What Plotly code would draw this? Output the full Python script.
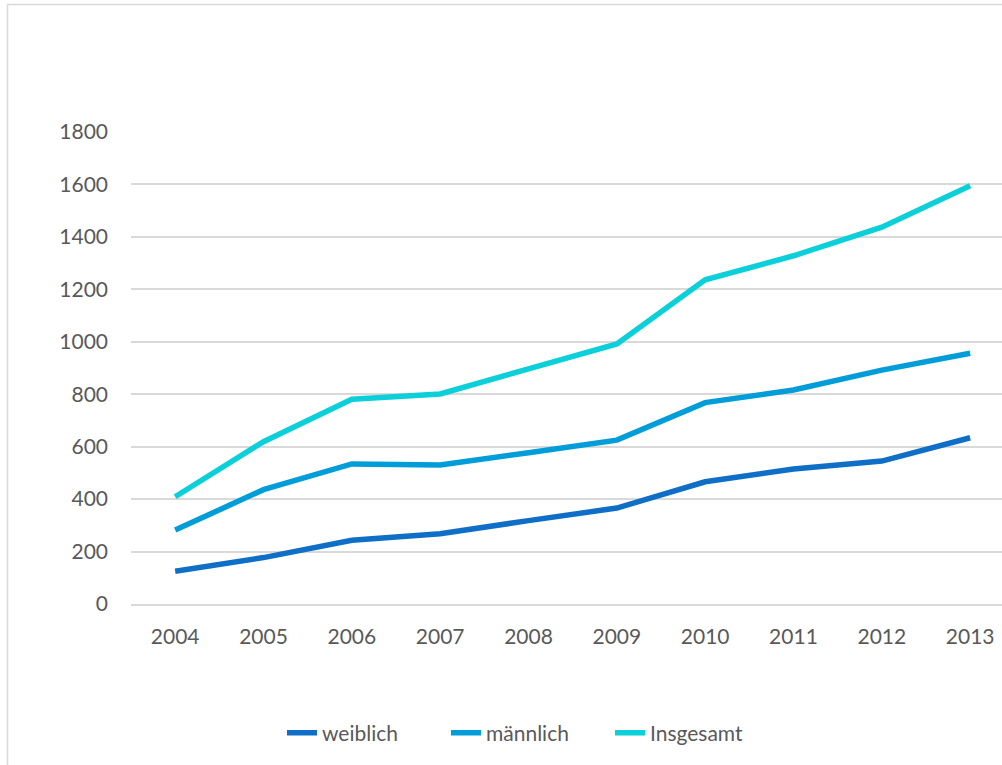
import plotly.graph_objects as go

# Jahre und Werte je Gruppe
years = [2004, 2005, 2006, 2007, 2008, 2009, 2010, 2011, 2012, 2013]
weiblich = [125, 177, 243, 268, 318, 366, 466, 515, 545, 634]
maennlich = [282, 436, 534, 530, 577, 625, 768, 816, 892, 956]
insgesamt = [409, 619, 781, 801, 897, 992, 1236, 1328, 1437, 1595]

series_names = ["weiblich", "männlich", "Insgesamt"]
series_colors = ["#0F6FC6", "#009DD9", "#0BD0D9"]
y_ticks = [0, 200, 400, 600, 800, 1000, 1200, 1400, 1600, 1800]

TEXT = "#595959"
GRID = "#D9D9D9"
FONT = "Lato, 'Open Sans', sans-serif"
FS = 21

fig = go.Figure()
for name, values, color in zip(series_names, [weiblich, maennlich, insgesamt], series_colors):
    fig.add_trace(go.Scatter(
        x=years, y=values, name=name, mode="lines",
        line=dict(color=color, width=5.5, shape="linear"),
    ))

W, H = 1002, 765
L, R, T, B = 131, 0, 132, 161
pw = W - L - R
ph = H - T - B

# Rahmen des Diagrammbereichs (nur links und oben sichtbar)
fig.add_shape(
    type="rect", xref="paper", yref="paper",
    x0=(7.5 - L) / pw, x1=(W + 20 - L) / pw,
    y0=(H - B - (H + 20)) / ph, y1=(H - B - 4.5) / ph,
    line=dict(color=GRID, width=1.5), fillcolor="rgba(0,0,0,0)", layer="below",
)

fig.update_layout(
    width=W, height=H,
    margin=dict(l=L, r=R, t=T, b=B, pad=0),
    paper_bgcolor="white", plot_bgcolor="white",
    font=dict(family=FONT, size=FS, color=TEXT),
    showlegend=True,
    legend=dict(
        orientation="h", x=(282 - L) / pw, xanchor="left",
        y=(H - B - 733) / ph, yanchor="middle",
        entrywidth=119, entrywidthmode="pixels",
        font=dict(family=FONT, size=FS, color=TEXT),
        bgcolor="rgba(0,0,0,0)",
    ),
    xaxis=dict(
        tickmode="array", tickvals=years, ticktext=[str(y) for y in years],
        range=[2003.5, 2003.5 + pw / 88.33],
        showgrid=False, zeroline=False,
        showline=True, linecolor=GRID, linewidth=1.5,
        ticks="", ticklabelstandoff=13,
        tickfont=dict(family=FONT, size=FS, color=TEXT),
        fixedrange=True,
    ),
    yaxis=dict(
        range=[0, 1800], tickmode="array", tickvals=y_ticks,
        showgrid=True, gridcolor=GRID, gridwidth=1.5,
        zeroline=False, showline=False,
        ticks="", ticklabelstandoff=22,
        tickfont=dict(family=FONT, size=FS, color=TEXT),
        fixedrange=True,
    ),
)

fig.write_html("out.html", config={"displayModeBar": False})
